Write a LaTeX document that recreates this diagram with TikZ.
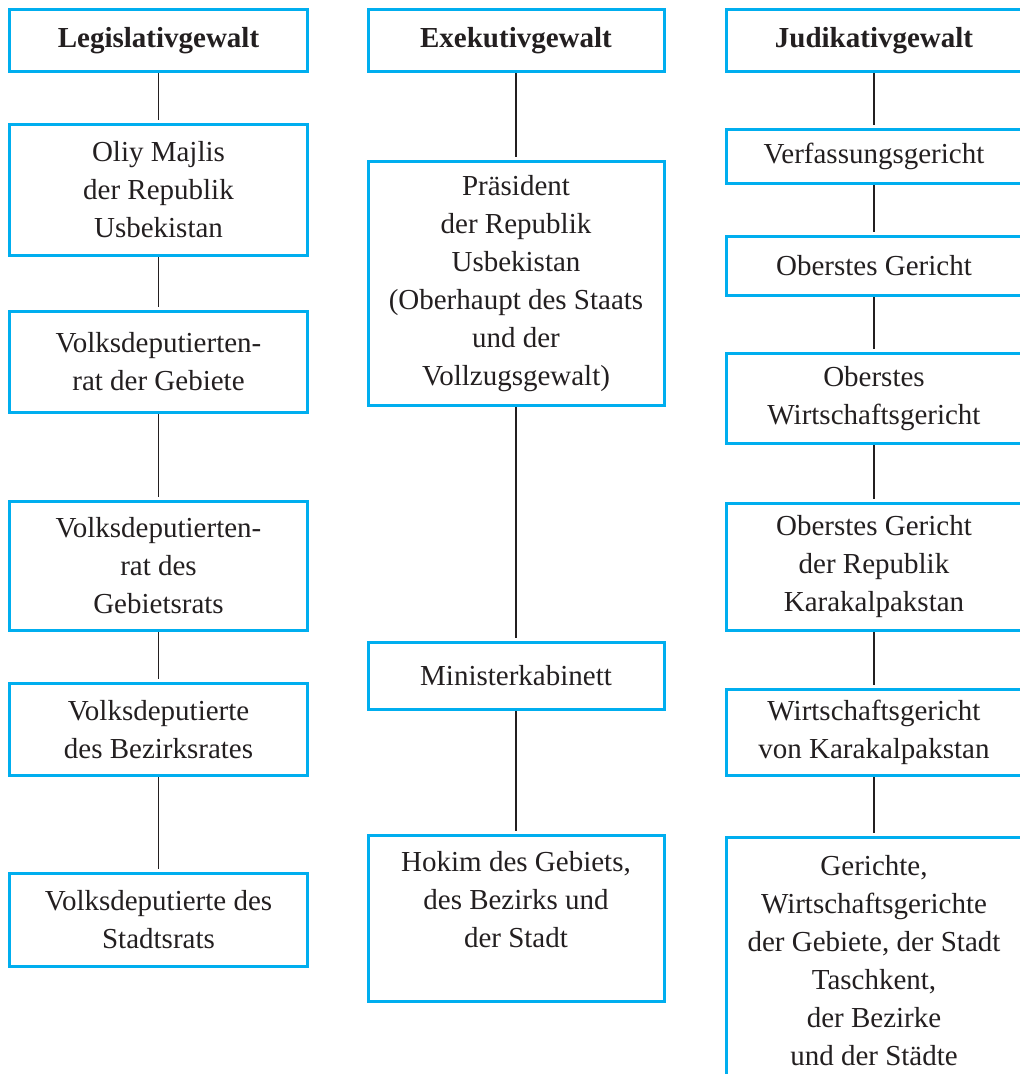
\documentclass[tikz,border=0pt]{standalone}
\usepackage{fontspec}
\setmainfont{LiberationSerif}[Extension=.ttf,UprightFont=*-Regular,BoldFont=*-Bold]
\definecolor{rahmen}{RGB}{0,174,239}
\definecolor{strich}{RGB}{35,31,32}
\begin{document}
\begin{tikzpicture}[x=1pt,y=-1pt,
  kasten/.style={draw=rahmen,line width=3pt,align=center,inner sep=0pt,
    text=strich,font=\fontsize{29}{38}\selectfont,minimum height=#1},
  links/.style={minimum width=298pt},
  mitte/.style={minimum width=296pt},
  rechts/.style={minimum width=296pt},
  kopf/.style={font=\fontsize{29}{38}\selectfont\bfseries},
  verb/.style={draw=strich,line width=1.2pt,shorten >=3pt}]
\useasboundingbox (0,0) rectangle (1020,1074);
% Legislativgewalt
\node[kasten=62pt,links,kopf] (L0) at (158.5,40.5) {Legislativgewalt};
\node[kasten=131pt,links] (L1) at (158.5,190) {Oliy Majlis\\der Republik\\Usbekistan};
\node[kasten=101pt,links] (L2) at (158.5,362) {Volksdeputierten-\\rat der Gebiete};
\node[kasten=129pt,links] (L3) at (158.5,566) {Volksdeputierten-\\rat des\\Gebietsrats};
\node[kasten=92pt,links] (L4) at (158.5,729.5) {Volksdeputierte\\des Bezirksrates};
\node[kasten=93pt,links] (L5) at (158.5,920) {Volksdeputierte des\\Stadtsrats};
% Exekutivgewalt
\node[kasten=62pt,mitte,kopf] (M0) at (516,40.5) {Exekutivgewalt};
\node[kasten=244pt,mitte] (M1) at (516,283.5) {Präsident\\der Republik\\Usbekistan\\(Oberhaupt des Staats\\und der\\Vollzugsgewalt)};
\node[kasten=67pt,mitte] (M2) at (516,676) {Ministerkabinett};
\node[kasten=166pt,mitte] (M3) at (516,918.5) {Hokim des Gebiets,\\des Bezirks und\\der Stadt\\\mbox{}};
% Judikativgewalt
\node[kasten=62pt,rechts,kopf] (R0) at (874,40.5) {Judikativgewalt};
\node[kasten=54pt,rechts] (R1) at (874,156.5) {Verfassungsgericht};
\node[kasten=59pt,rechts] (R2) at (874,266) {Oberstes Gericht};
\node[kasten=90pt,rechts] (R3) at (874,398.5) {Oberstes\\Wirtschaftsgericht};
\node[kasten=127pt,rechts] (R4) at (874,567) {Oberstes Gericht\\der Republik\\Karakalpakstan};
\node[kasten=86pt,rechts] (R5) at (874,732.5) {Wirtschaftsgericht\\von Karakalpakstan};
\node[kasten=246pt,rechts] (R6) at (874,960.5) {Gerichte,\\Wirtschaftsgerichte\\der Gebiete, der Stadt\\Taschkent,\\der Bezirke\\und der Städte};

\draw[verb] (L0)--(L1);\draw[verb] (L1)--(L2);\draw[verb] (L2)--(L3);
\draw[verb] (L3)--(L4);\draw[verb] (L4)--(L5);
\draw[verb] (M0)--(M1);\draw[verb] (M1)--(M2);\draw[verb] (M2)--(M3);
\draw[verb] (R0)--(R1);\draw[verb] (R1)--(R2);\draw[verb] (R2)--(R3);
\draw[verb] (R3)--(R4);\draw[verb] (R4)--(R5);\draw[verb] (R5)--(R6);

\end{tikzpicture}
\end{document}
